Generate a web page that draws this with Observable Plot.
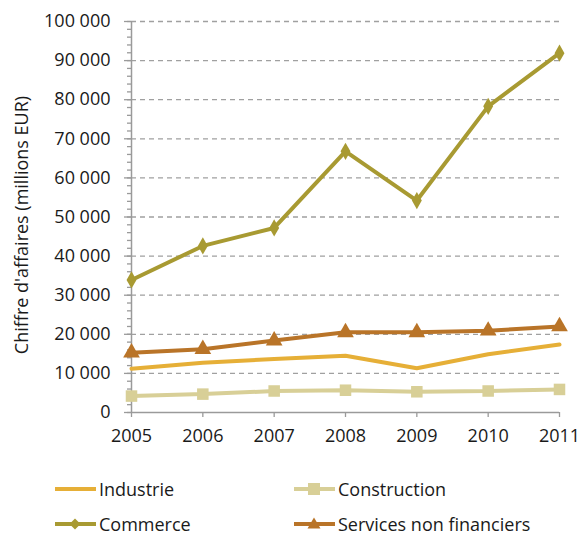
<!DOCTYPE html>
<html>
<head>
<meta charset="utf-8">
<script src="https://cdn.jsdelivr.net/npm/d3@7"></script>
<script src="https://cdn.jsdelivr.net/npm/@observablehq/plot@0.6"></script>
<style>
  html, body { margin: 0; padding: 0; background: #fff; }
  #wrap { position: relative; width: 582px; height: 537px; font-family: "Open Sans", sans-serif; }
  #legend { position: absolute; left: 0; top: 460px; width: 582px; height: 77px; }
  .item { position: absolute; display: flex; align-items: center; font-size: 18px; color: #1a1a1a; white-space: nowrap; }
  .item svg { margin-right: 3px; }
</style>
</head>
<body>
<div id="wrap">
  <div id="chart"></div>
  <div id="legend"></div>
</div>
<script>
const years = [2005, 2006, 2007, 2008, 2009, 2010, 2011];
const industrie = [11200, 12700, 13700, 14500, 11300, 14900, 17400];
const construction = [4200, 4700, 5500, 5700, 5300, 5500, 5900];
const commerce = [33900, 42600, 47200, 66800, 54200, 78300, 91900];
const services = [15300, 16200, 18400, 20500, 20500, 20900, 22000];
const seriesNames = ["Industrie", "Construction", "Commerce", "Services non financiers"];
const seriesColors = ["#e6af37", "#d8cf97", "#a89a32", "#b97428"];
const yMajorTicks = [0, 10000, 20000, 30000, 40000, 50000, 60000, 70000, 80000, 90000, 100000];

const allSeries = [industrie, construction, commerce, services];
const rows = [];
allSeries.forEach((vals, si) => {
  vals.forEach((v, i) => rows.push({serie: seriesNames[si], year: years[i], value: v}));
});
const colorOf = Object.fromEntries(seriesNames.map((n, i) => [n, seriesColors[i]]));
const fmt = d => d3.format(",")(d).replace(/,/g, " ");
const minorTicks = d3.range(0, 100001, 2000);
const axisColor = "#9a9a9a";

const chart = Plot.plot({
  width: 582,
  height: 460,
  marginTop: 21,
  marginBottom: 48,
  marginLeft: 131,
  marginRight: 23,
  style: {fontFamily: "Open Sans, sans-serif", fontSize: "16px", color: "#1a1a1a", background: "#fff"},
  x: {domain: [2005, 2011], type: "linear", label: null},
  y: {domain: [0, 100000], label: null},
  marks: [
    Plot.gridY(yMajorTicks.filter(d => d > 0), {stroke: "#a0a0a0", strokeOpacity: 1, strokeDasharray: "5,4", strokeWidth: 1.3}),
    Plot.axisY(minorTicks, {tickSize: 4, tickFormat: () => "", stroke: axisColor, strokeWidth: 1.3, label: null}),
    Plot.axisY(yMajorTicks, {tickSize: 7, tickPadding: 14, tickFormat: fmt, stroke: axisColor, strokeWidth: 1.3, fontSize: 18, label: null}),
    Plot.axisX(years, {tickSize: 5, tickPadding: 12, tickFormat: d => String(d), stroke: axisColor, strokeWidth: 1.3, fontSize: 18, label: null}),
    Plot.ruleY([0], {stroke: axisColor, strokeWidth: 1.5}),
    Plot.ruleX([2005], {stroke: axisColor, strokeWidth: 1.5}),
    Plot.text(["Chiffre d'affaires (millions EUR)"], {frameAnchor: "left", dx: -109, dy: 8, rotate: -90, textAnchor: "middle", fontSize: 18, fill: "#1a1a1a"}),
    Plot.line(rows, {x: "year", y: "value", z: "serie", stroke: d => colorOf[d.serie], strokeWidth: 4, strokeLinejoin: "miter"}),
    Plot.dot(rows.filter(d => d.serie === "Construction"), {x: "year", y: "value", symbol: "square", r: 6.5, fill: colorOf["Construction"], stroke: null}),
    Plot.dot(rows.filter(d => d.serie === "Commerce"), {x: "year", y: "value", symbol: "diamond", r: 5.2, fill: colorOf["Commerce"], stroke: null}),
    Plot.dot(rows.filter(d => d.serie === "Services non financiers"), {x: "year", y: "value", symbol: "triangle", r: 6.2, fill: colorOf["Services non financiers"], stroke: null})
  ]
});
document.getElementById("chart").appendChild(chart);

// Legend
const legendPos = [
  {x: 55, y: 29}, {x: 294, y: 29}, {x: 55, y: 64}, {x: 294, y: 64}
];
const markerSvg = (name, color) => {
  let m = "";
  if (name === "Construction") m = `<rect x="14" y="2" width="12" height="12" fill="${color}"/>`;
  if (name === "Commerce") m = `<path d="M20 2.5 L25.5 8 L20 13.5 L14.5 8 Z" fill="${color}"/>`;
  if (name === "Services non financiers") m = `<path d="M20 1.5 L26.5 12.5 L13.5 12.5 Z" fill="${color}"/>`;
  return `<svg width="41" height="16" viewBox="0 0 41 16"><line x1="0" y1="8" x2="41" y2="8" stroke="${color}" stroke-width="4"/>${m}</svg>`;
};
const legend = document.getElementById("legend");
seriesNames.forEach((n, i) => {
  const d = document.createElement("div");
  d.className = "item";
  d.style.left = legendPos[i].x + "px";
  d.style.top = (legendPos[i].y - 12) + "px";
  d.style.height = "24px";
  d.innerHTML = markerSvg(n, seriesColors[i]) + `<span>${n}</span>`;
  legend.appendChild(d);
});
</script>
</body>
</html>
